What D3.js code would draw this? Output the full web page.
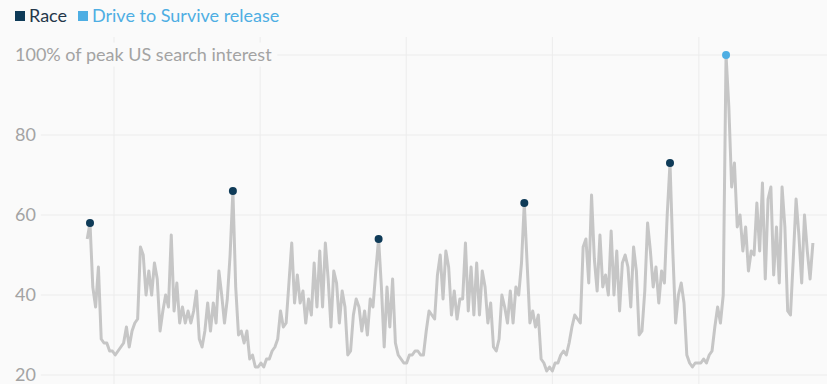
<!DOCTYPE html>
<html>
<head>
<meta charset="utf-8">
<script src="https://cdn.jsdelivr.net/npm/d3@7"></script>
<style>
  body { margin: 0; background: #fafafa; }
  svg { display: block; font-family: Lato, "Open Sans", sans-serif; }
</style>
</head>
<body>
<svg id="chart"></svg>
<script>
// weekly US search interest, first week starts late Oct 2016
const startDate = new Date(2016, 9, 26)
const interest = [
  54, 58, 42, 37, 47, 29, 28, 28, 26, 26, 25, 26, 27, 28, 32, 27, 31, 33, 34, 52,
  50, 40, 46, 40, 48, 44, 31, 36, 40, 37, 55, 36, 43, 33, 37, 33, 36, 33, 36, 41,
  29, 27, 31, 38, 31, 38, 33, 46, 40, 33, 39, 50, 66, 42, 30, 31, 28, 31, 24, 25,
  22, 22, 23, 22, 24, 24, 26, 27, 29, 36, 32, 33, 43, 53, 38, 45, 38, 41, 33, 39,
  35, 48, 37, 51, 37, 53, 44, 32, 46, 43, 33, 41, 37, 25, 26, 35, 39, 37, 31, 36,
  30, 39, 37, 46, 54, 42, 27, 42, 32, 44, 28, 25, 24, 23, 23, 25, 25, 26, 26, 25,
  25, 31, 36, 35, 34, 45, 50, 39, 51, 47, 35, 41, 34, 39, 39, 53, 36, 47, 35, 48,
  35, 46, 42, 33, 38, 27, 26, 29, 40, 37, 33, 41, 33, 42, 40, 48, 63, 48, 33, 36,
  32, 35, 24, 23, 21, 22, 21, 23, 23, 25, 26, 25, 28, 32, 35, 34, 33, 52, 54, 43,
  65, 49, 41, 55, 42, 45, 40, 56, 40, 51, 36, 48, 50, 47, 37, 52, 46, 30, 31, 41,
  58, 51, 42, 47, 38, 46, 43, 60, 73, 51, 33, 40, 43, 38, 25, 23, 22, 23, 23, 23,
  24, 23, 25, 26, 32, 37, 33, 40, 100, 87, 67, 73, 57, 60, 51, 57, 46, 51, 50, 63,
  51, 68, 44, 64, 67, 45, 57, 43, 67, 57, 36, 35, 49, 64, 55, 43, 60, 51, 44, 53
]
const raceWeeks = [1, 52, 104, 156, 208]
const releaseWeeks = [228]
const yTicks = [20, 40, 60, 80, 100]
const legendLabels = ["Race", "Drive to Survive release"]

const width = 827, height = 384
const bg = "#fafafa"
const raceColor = "#0f3b58", releaseColor = "#4eaee3"

const data = interest.map((v, i) => ({ date: d3.timeDay.offset(startDate, i * 7), value: v }))

const svg = d3.select("#chart").attr("width", width).attr("height", height)

const x = d3.scaleTime()
  .domain(d3.extent(data, d => d.date))
  .range([87.2, 812.9])

const y = d3.scaleLinear()
  .domain([20, 100])
  .range([375, 55])

// vertical gridlines, one per year
svg.append("g")
  .selectAll("line")
  .data(x.ticks(d3.timeYear.every(1)))
  .join("line")
  .attr("x1", d => x(d)).attr("x2", d => x(d))
  .attr("y1", 37).attr("y2", height)
  .attr("stroke", "#ececec")

// horizontal gridlines
svg.append("g")
  .selectAll("line")
  .data(yTicks)
  .join("line")
  .attr("x1", 0).attr("x2", width)
  .attr("y1", d => y(d)).attr("y2", d => y(d))
  .attr("stroke", "#ececec")

// y labels with a background so gridlines stop at the text
const labels = svg.append("g")
  .selectAll("g")
  .data(yTicks)
  .join("g")
  .attr("transform", d => `translate(15,${y(d)})`)

labels.append("rect")
  .attr("class", "mask")
  .attr("fill", bg)

labels.append("text")
  .attr("dy", "0.36em")
  .attr("fill", "#a3a3a3")
  .style("font-size", "18px")
  .text(d => d === 100 ? "100% of peak US search interest" : d)

labels.each(function () {
  const g = d3.select(this)
  const bb = g.select("text").node().getBBox()
  g.select("rect")
    .attr("x", -15).attr("y", bb.y - 1)
    .attr("width", bb.width + 15 + 5).attr("height", bb.height + 2)
})

// the line
const line = d3.line()
  .x(d => x(d.date))
  .y(d => y(d.value))

svg.append("path")
  .datum(data)
  .attr("fill", "none")
  .attr("stroke", "#c6c6c6")
  .attr("stroke-width", 3)
  .attr("stroke-linejoin", "round")
  .attr("d", line)

// highlighted points
svg.append("g")
  .selectAll("circle")
  .data(raceWeeks.map(i => data[i]))
  .join("circle")
  .attr("cx", d => x(d.date)).attr("cy", d => y(d.value))
  .attr("r", 4)
  .attr("fill", raceColor)

svg.append("g")
  .selectAll("circle")
  .data(releaseWeeks.map(i => data[i]))
  .join("circle")
  .attr("cx", d => x(d.date)).attr("cy", d => y(d.value))
  .attr("r", 4)
  .attr("fill", releaseColor)

// legend
const legendColors = [raceColor, releaseColor]
const legendText = ["#24374a", releaseColor]
const legendX = [15, 78]
const legend = svg.append("g")
  .selectAll("g")
  .data(legendLabels)
  .join("g")
  .attr("transform", (d, i) => `translate(${legendX[i]},11)`)

legend.append("rect")
  .attr("width", 10).attr("height", 10)
  .attr("fill", (d, i) => legendColors[i])

legend.append("text")
  .attr("x", 14).attr("y", 10.5)
  .attr("fill", (d, i) => legendText[i])
  .style("font-size", "18px")
  .text(d => d)
</script>
</body>
</html>
